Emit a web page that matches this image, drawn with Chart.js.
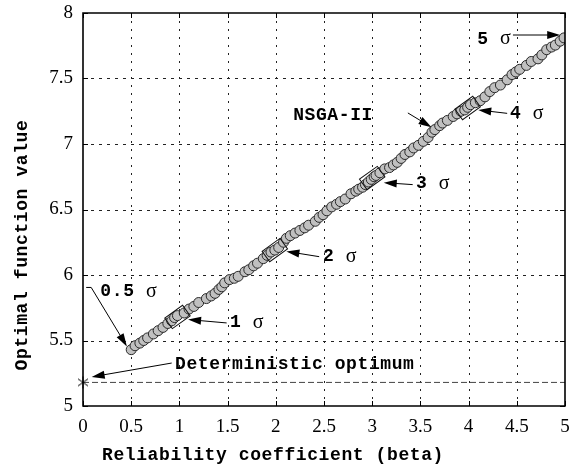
<!DOCTYPE html>
<html>
<head>
<meta charset="utf-8">
<script src="https://cdn.jsdelivr.net/npm/chart.js@4/dist/chart.umd.min.js"></script>
<style>
  body { margin: 0; background: #fff; }
  #wrap { width: 572px; height: 466px; }
</style>
</head>
<body>
<div id="wrap"><canvas id="chart" width="572" height="466"></canvas></div>
<script>
// NSGA-II optimum vs reliability coefficient
const betaValues = [
    0.50, 0.54, 0.59, 0.63, 0.67, 0.73, 0.78, 0.83, 0.88, 0.92,
    0.95, 0.98, 1.05, 1.10, 1.15, 1.20, 1.28, 1.33, 1.37, 1.41,
    1.44, 1.47, 1.52, 1.57, 1.61, 1.68, 1.72, 1.77, 1.81, 1.87,
    1.91, 1.95, 1.99, 2.03, 2.08, 2.11, 2.15, 2.20, 2.25, 2.30,
    2.34, 2.41, 2.45, 2.49, 2.53, 2.58, 2.63, 2.67, 2.72, 2.78,
    2.83, 2.86, 2.90, 2.93, 2.96, 2.99, 3.02, 3.04, 3.08, 3.13,
    3.18, 3.22, 3.26, 3.30, 3.34, 3.39, 3.43, 3.48, 3.53, 3.58,
    3.62, 3.65, 3.70, 3.73, 3.78, 3.84, 3.88, 3.92, 3.96, 3.99,
    4.02, 4.07, 4.12, 4.17, 4.22, 4.27, 4.33, 4.40, 4.45, 4.49,
    4.53, 4.60, 4.65, 4.72, 4.76, 4.81, 4.86, 4.90, 4.95, 4.99
];
const optimumValues = [
    5.43, 5.46, 5.48, 5.50, 5.52, 5.55, 5.575, 5.60, 5.63, 5.65,
    5.675, 5.69, 5.71, 5.74, 5.76, 5.79, 5.82, 5.84, 5.86, 5.89,
    5.91, 5.94, 5.965, 5.975, 5.99, 6.025, 6.04, 6.07, 6.09, 6.125,
    6.15, 6.175, 6.19, 6.21, 6.25, 6.28, 6.30, 6.32, 6.34, 6.36,
    6.38, 6.41, 6.44, 6.46, 6.49, 6.52, 6.54, 6.56, 6.58, 6.62,
    6.64, 6.655, 6.67, 6.69, 6.71, 6.73, 6.75, 6.76, 6.78, 6.81,
    6.82, 6.84, 6.86, 6.89, 6.92, 6.94, 6.97, 6.99, 7.02, 7.05,
    7.09, 7.11, 7.14, 7.16, 7.18, 7.21, 7.23, 7.25, 7.26, 7.28,
    7.30, 7.315, 7.33, 7.36, 7.40, 7.43, 7.45, 7.49, 7.53, 7.55,
    7.57, 7.60, 7.63, 7.65, 7.68, 7.72, 7.74, 7.755, 7.785, 7.81
];
const deterministicOptimum = 5.18;

const xTickValues = [0, 0.5, 1, 1.5, 2, 2.5, 3, 3.5, 4, 4.5, 5];
const yTickValues = [5, 5.5, 6, 6.5, 7, 7.5, 8];

// sigma levels marked with a box on the curve
const sigmaBeta = [0.98, 1.99, 3.0, 3.99];
const sigmaValue = [5.68, 6.19, 6.74, 7.275];

// labels + arrows, in data units
const notes = [
    { text: '0.5 σ', x: 0.18, y: 5.875, from: [0.085, 5.905], to: [0.455, 5.455], stub: true },
    { text: '1 σ', x: 1.525, y: 5.634, from: [1.49, 5.634], to: [1.09, 5.66] },
    { text: '2 σ', x: 2.49, y: 6.14, from: [2.45, 6.14], to: [2.11, 6.18] },
    { text: '3 σ', x: 3.455, y: 6.695, from: [3.42, 6.69], to: [3.12, 6.705] },
    { text: '4 σ', x: 4.43, y: 7.234, from: [4.40, 7.234], to: [4.10, 7.26] },
    { text: '5 σ', x: 4.09, y: 7.80, from: [4.46, 7.832], to: [4.95, 7.832] },
    { text: 'NSGA-II', x: 2.18, y: 7.22, from: [3.37, 7.237], to: [3.615, 7.128] },
    { text: 'Deterministic optimum', x: 0.955, y: 5.32, from: [0.92, 5.328], to: [0.09, 5.222] }
];

const monoFont = 'bold 18px "Liberation Mono", "DejaVu Sans Mono", monospace';
const sigmaFont = '20px "Liberation Serif", "DejaVu Serif", serif';

// six-armed asterisk for the deterministic point
const star = document.createElement('canvas');
star.width = 14;
star.height = 14;
(function () {
    const c = star.getContext('2d');
    c.strokeStyle = '#000';
    c.lineWidth = 1;
    c.beginPath();
    c.moveTo(7, 1); c.lineTo(7, 13);
    c.moveTo(2, 3.5); c.lineTo(12, 10.5);
    c.moveTo(12, 3.5); c.lineTo(2, 10.5);
    c.stroke();
})();

function drawArrow(ctx, x1, y1, x2, y2) {
    const ang = Math.atan2(y2 - y1, x2 - x1);
    const len = 13, half = 4;
    ctx.beginPath();
    ctx.moveTo(x1, y1);
    ctx.lineTo(x2 - Math.cos(ang) * len * 0.8, y2 - Math.sin(ang) * len * 0.8);
    ctx.stroke();
    ctx.beginPath();
    ctx.moveTo(x2, y2);
    ctx.lineTo(x2 - Math.cos(ang) * len - Math.sin(ang) * half, y2 - Math.sin(ang) * len + Math.cos(ang) * half);
    ctx.lineTo(x2 - Math.cos(ang) * len + Math.sin(ang) * half, y2 - Math.sin(ang) * len - Math.cos(ang) * half);
    ctx.closePath();
    ctx.fill();
}

// mono text, but sigma in a serif face
function drawNote(ctx, text, px, py) {
    let cx = px;
    ctx.textAlign = 'left';
    ctx.textBaseline = 'middle';
    for (const ch of text) {
        if (ch === 'σ') {
            ctx.font = sigmaFont;
            ctx.letterSpacing = '0px';
        } else {
            ctx.font = monoFont;
            ctx.letterSpacing = '0.6px';
        }
        ctx.fillText(ch, cx, py);
        cx += ctx.measureText(ch).width;
    }
    ctx.letterSpacing = '0px';
}

// plot box taken from the scales themselves
function plotBox(chart) {
    const x = chart.scales.x, y = chart.scales.y;
    return {
        left: x.getPixelForValue(x.min),
        right: x.getPixelForValue(x.max),
        top: y.getPixelForValue(y.max),
        bottom: y.getPixelForValue(y.min)
    };
}

const decorations = {
    id: 'decorations',
    beforeDatasetsDraw(chart) {
        // dotted grid
        const ctx = chart.ctx;
        const a = plotBox(chart);
        ctx.save();
        ctx.strokeStyle = '#222';
        ctx.lineWidth = 1;
        ctx.setLineDash([2, 6]);
        xTickValues.slice(1, -1).forEach((v) => {
            const px = Math.round(chart.scales.x.getPixelForValue(v)) + 0.5;
            ctx.beginPath();
            ctx.moveTo(px, a.top);
            ctx.lineTo(px, a.bottom);
            ctx.stroke();
        });
        ctx.setLineDash([3, 5]);
        yTickValues.slice(1, -1).forEach((v) => {
            const py = Math.round(chart.scales.y.getPixelForValue(v)) + 0.5;
            ctx.beginPath();
            ctx.moveTo(a.left, py);
            ctx.lineTo(a.right, py);
            ctx.stroke();
        });
        ctx.restore();
    },
    afterDatasetsDraw(chart) {
        const ctx = chart.ctx;
        const x = chart.scales.x, y = chart.scales.y;
        const a = plotBox(chart);
        ctx.save();
        ctx.setLineDash([]);
        ctx.strokeStyle = '#000';
        ctx.fillStyle = '#000';

        // inward tick marks on all four sides
        ctx.lineWidth = 1;
        ctx.beginPath();
        xTickValues.forEach((v) => {
            const px = Math.round(x.getPixelForValue(v)) + 0.5;
            ctx.moveTo(px, a.bottom); ctx.lineTo(px, a.bottom - 5);
            ctx.moveTo(px, a.top); ctx.lineTo(px, a.top + 5);
        });
        yTickValues.forEach((v) => {
            const py = Math.round(y.getPixelForValue(v)) + 0.5;
            ctx.moveTo(a.left, py); ctx.lineTo(a.left + 5, py);
            ctx.moveTo(a.right, py); ctx.lineTo(a.right - 5, py);
        });
        ctx.stroke();

        // frame
        ctx.lineWidth = 1.6;
        ctx.beginPath();
        ctx.rect(a.left, a.top, a.right - a.left, a.bottom - a.top);
        ctx.stroke();

        // sigma boxes
        ctx.lineWidth = 1;
        ctx.strokeStyle = '#111';
        const slope = Math.atan2(
            y.getPixelForValue(7.81) - y.getPixelForValue(5.43),
            x.getPixelForValue(4.99) - x.getPixelForValue(0.5)
        );
        sigmaBeta.forEach((b, i) => {
            ctx.save();
            ctx.translate(x.getPixelForValue(b), y.getPixelForValue(sigmaValue[i]));
            ctx.rotate(slope);
            ctx.strokeRect(-11, -6.5, 22, 13);
            ctx.restore();
        });

        // arrows and labels
        ctx.strokeStyle = '#000';
        ctx.lineWidth = 1;
        notes.forEach((n) => {
            const fx = x.getPixelForValue(n.from[0]), fy = y.getPixelForValue(n.from[1]);
            const tx = x.getPixelForValue(n.to[0]), ty = y.getPixelForValue(n.to[1]);
            if (n.stub) {
                ctx.beginPath();
                ctx.moveTo(fx - 5, fy);
                ctx.lineTo(fx, fy);
                ctx.stroke();
            }
            drawArrow(ctx, fx, fy, tx, ty);
            drawNote(ctx, n.text, x.getPixelForValue(n.x), y.getPixelForValue(n.y));
        });

        // axis titles
        ctx.font = monoFont;
        ctx.letterSpacing = '0.6px';
        ctx.textAlign = 'center';
        ctx.textBaseline = 'middle';
        ctx.fillText('Reliability coefficient (beta)', 273, 455);
        ctx.translate(22, 245);
        ctx.rotate(-Math.PI / 2);
        ctx.fillText('Optimal function value', 0, 0);
        ctx.restore();
    }
};

const tickFont = { family: '"Liberation Serif", "DejaVu Serif", serif', size: 19 };

// keep the plot box fixed: no extra room for tick-label overhang
function noOverhang(s) {
    s.paddingTop = 0;
    s.paddingBottom = 0;
    s.paddingLeft = 0;
    s.paddingRight = 0;
}

new Chart(document.getElementById('chart'), {
    type: 'scatter',
    data: {
        datasets: [
            {
                label: 'NSGA-II',
                data: betaValues.map((b, i) => ({ x: b, y: optimumValues[i] })),
                pointRadius: 5,
                pointBackgroundColor: '#c0c0c0',
                pointBorderColor: '#2a2a2a',
                pointBorderWidth: 1
            },
            {
                label: 'Deterministic optimum',
                data: [{ x: 0, y: deterministicOptimum }],
                pointStyle: star,
                clip: false
            },
            {
                label: 'Deterministic line',
                data: [{ x: 0, y: deterministicOptimum }, { x: 5, y: deterministicOptimum }],
                showLine: true,
                pointRadius: 0,
                borderColor: '#444',
                borderWidth: 1,
                borderDash: [6, 3]
            }
        ]
    },
    options: {
        responsive: false,
        animation: false,
        layout: { padding: { top: 13, right: 7, left: 0, bottom: 0 } },
        plugins: {
            legend: { display: false },
            tooltip: { enabled: false }
        },
        scales: {
            x: {
                type: 'linear',
                min: 0,
                max: 5,
                afterFit: (s) => { s.height = 60; noOverhang(s); },
                afterBuildTicks: (s) => { s.ticks = xTickValues.map((v) => ({ value: v })); },
                ticks: {
                    font: tickFont,
                    color: '#000',
                    padding: 10,
                    maxRotation: 0,
                    callback: (v) => String(v)
                },
                grid: { display: false, drawTicks: false },
                border: { display: false }
            },
            y: {
                type: 'linear',
                min: 5,
                max: 8,
                afterFit: (s) => { s.width = 83; noOverhang(s); },
                afterBuildTicks: (s) => { s.ticks = yTickValues.map((v) => ({ value: v })); },
                ticks: {
                    font: tickFont,
                    color: '#000',
                    padding: 10,
                    callback: (v) => String(v)
                },
                grid: { display: false, drawTicks: false },
                border: { display: false }
            }
        }
    },
    plugins: [decorations]
});
</script>
</body>
</html>
